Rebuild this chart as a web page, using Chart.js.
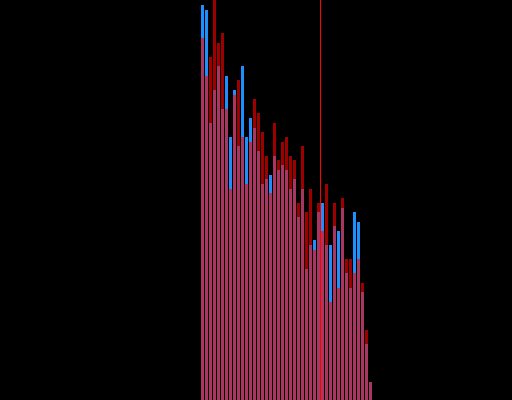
<!DOCTYPE html>
<html>
<head>
<meta charset="utf-8">
<script src="https://cdn.jsdelivr.net/npm/chart.js@4/dist/chart.umd.min.js"></script>
<style>
    html, body { margin: 0; padding: 0; background: #000; }
    #wrap { width: 512px; height: 400px; }
</style>
</head>
<body>
<div id="wrap"><canvas id="ctx" width="512" height="400"></canvas></div>
<script>
// bin index of each bar
const BINS = [];
for (let i = 0; i < 43; i++) BINS.push(i);

// first series (blue, opaque)
const BLUE = [
    395, 390, 277, 310, 334, 291, 324, 263, 310, 254,
    334, 263, 282, 272, 249, 216, 221, 225, 244, 230,
    235, 230, 211, 221, 183, 211, 131, 155, 160, 188,
    197, 155, 155, 174, 169, 192, 127, 112, 188, 178,
    108, 56, 18
];

// second series (red, drawn over blue with transparency)
const RED = [
    362, 324, 343, 405, 357, 367, 291, 211, 305, 320,
    263, 216, 258, 301, 287, 268, 244, 207, 277, 240,
    258, 263, 244, 240, 197, 254, 188, 211, 150, 197,
    169, 216, 98, 197, 112, 202, 141, 141, 127, 141,
    117, 70, 18
];

// vertical marker, between bins 29 and 30
const MARKER = 29.5;
const Y_MAX = 400;

const toPoints = arr => arr.map((v, i) => ({ x: BINS[i], y: v }));

new Chart(document.getElementById('ctx'), {
    type: 'bar',
    data: {
        datasets: [
            {
                type: 'line',
                data: [{ x: MARKER, y: 0 }, { x: MARKER, y: Y_MAX }],
                borderColor: '#ff0000',
                borderWidth: 1,
                pointRadius: 0,
                order: 0
            },
            {
                data: toPoints(RED),
                backgroundColor: 'rgba(255, 0, 0, 0.62)',
                borderWidth: 0,
                grouped: false,
                barPercentage: 0.75,
                categoryPercentage: 1,
                order: 1
            },
            {
                data: toPoints(BLUE),
                backgroundColor: '#1e8fff',
                borderWidth: 0,
                grouped: false,
                barPercentage: 0.75,
                categoryPercentage: 1,
                order: 2
            }
        ]
    },
    options: {
        responsive: false,
        animation: false,
        devicePixelRatio: 1,
        layout: { padding: 0 },
        plugins: { legend: { display: false }, tooltip: { enabled: false } },
        scales: {
            x: {
                type: 'linear',
                display: false,
                offset: false,
                grid: { offset: false },
                min: -50.625,
                max: 77.375
            },
            y: {
                display: false,
                min: 0,
                max: Y_MAX
            }
        }
    }
});
</script>
</body>
</html>
